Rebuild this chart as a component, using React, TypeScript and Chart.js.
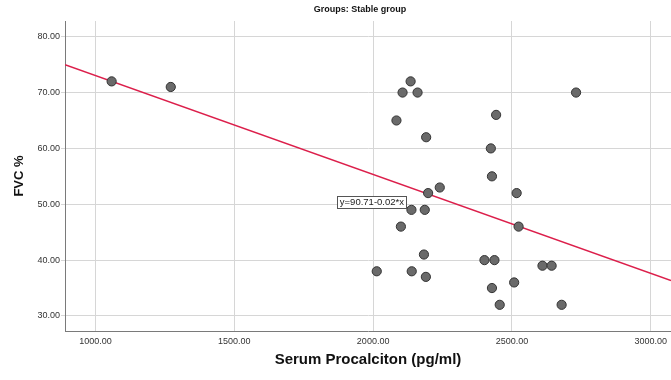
import React, { useEffect, useRef } from "react";
import { Chart, registerables } from "chart.js";

Chart.register(...registerables);

const titleText = "Groups: Stable group";
const xAxisTitle = "Serum Procalciton (pg/ml)";
const yAxisTitle = "FVC %";

const procalcitonin = [1058, 1271, 2135, 2106, 2160, 2084, 2191, 2443, 2731, 2424, 2428, 2240, 2198, 2517, 2138, 2186, 2100, 2524, 2013, 2139, 2183, 2190, 2401, 2437, 2428, 2456, 2508, 2610, 2643, 2679];
const fvc = [72, 71, 72, 70, 70, 65, 62, 66, 70, 60, 55, 53, 52, 52, 49, 49, 46, 46, 38, 38, 41, 37, 40, 40, 35, 32, 36, 39, 39, 32];

const fitX = [890, 3073];
const fitY = [75.0, 36.34];
const fitLabel = "y=90.71-0.02*x";
const fitLabelX = 1871;
const fitLabelY = 50.4;

const xTicks = [1000, 1500, 2000, 2500, 3000];
const yTicks = [30, 40, 50, 60, 70, 80];
const xRange = [890, 3073];
const yRange = [27.31, 82.81];

const FONT = "'Liberation Sans', Arial, sans-serif";

const overlayPlugin = {
  id: "overlay",
  afterDatasetsDraw(chart: any) {
    const ctx = chart.ctx;
    const xs = chart.scales.x;
    const ys = chart.scales.y;
    ctx.save();
    ctx.font = `9.5px ${FONT}`;
    const w = ctx.measureText(fitLabel).width;
    const lx = xs.getPixelForValue(fitLabelX);
    const ly = ys.getPixelForValue(fitLabelY);
    const bw = w + 5;
    const bh = 12;
    ctx.fillStyle = "#ffffff";
    ctx.fillRect(lx, ly - bh / 2, bw, bh);
    ctx.strokeStyle = "#555555";
    ctx.lineWidth = 1;
    ctx.strokeRect(Math.round(lx) + 0.5, Math.round(ly - bh / 2) + 0.5, Math.round(bw), bh);
    ctx.fillStyle = "#222222";
    ctx.textBaseline = "middle";
    ctx.textAlign = "left";
    ctx.fillText(fitLabel, lx + 2.5, ly + 0.5);
    ctx.restore();
  },
  afterDraw(chart: any) {
    const ctx = chart.ctx;
    ctx.save();
    ctx.font = `bold 9px ${FONT}`;
    ctx.fillStyle = "#111111";
    ctx.textAlign = "center";
    ctx.textBaseline = "middle";
    ctx.fillText(titleText, 360, 10);
    ctx.restore();
  },
};

export default function App() {
  const ref = useRef<HTMLCanvasElement>(null);
  useEffect(() => {
    if (!ref.current) return;
    const chart = new Chart(ref.current, {
      type: "scatter",
      data: {
        datasets: [
          {
            type: "scatter",
            data: procalcitonin.map((x, i) => ({ x, y: fvc[i] })),
            backgroundColor: "#6a6a6a",
            borderColor: "#333333",
            borderWidth: 1,
            pointRadius: 4.6,
            order: 0,
          },
          {
            type: "line",
            data: fitX.map((x, i) => ({ x, y: fitY[i] })),
            borderColor: "#dc1f4b",
            borderWidth: 1.5,
            pointRadius: 0,
            fill: false,
            order: 1,
          } as any,
        ],
      },
      options: {
        responsive: false,
        animation: false,
        layout: { autoPadding: false, padding: { top: 21, left: 0, right: 0, bottom: 0 } },
        plugins: {
          legend: { display: false },
          tooltip: { enabled: false },
          title: { display: false },
        },
        scales: {
          x: {
            type: "linear",
            min: xRange[0],
            max: xRange[1],
            afterBuildTicks: (s: any) => {
              s.ticks = xTicks.map((v) => ({ value: v }));
            },
            afterFit: (s: any) => {
              s.height = 49;
              s.paddingLeft = 0;
              s.paddingRight = 0;
            },
            ticks: {
              padding: 5,
              font: { family: FONT, size: 9 },
              color: "#333333",
              callback: (v: any) => Number(v).toFixed(2),
              maxRotation: 0,
            },
            grid: { color: "#d6d6d6", lineWidth: 1, drawTicks: false },
            border: { color: "#7a7a7a", width: 1 },
            title: {
              display: true,
              text: xAxisTitle,
              font: { family: FONT, size: 15, weight: "bold" },
              color: "#111111",
              padding: { top: 0, bottom: 11 },
            },
          },
          y: {
            type: "linear",
            min: yRange[0],
            max: yRange[1],
            afterBuildTicks: (s: any) => {
              s.ticks = yTicks.map((v) => ({ value: v }));
            },
            afterFit: (s: any) => {
              s.width = 65;
              s.paddingTop = 0;
              s.paddingBottom = 0;
            },
            ticks: {
              padding: 1,
              font: { family: FONT, size: 9 },
              color: "#333333",
              callback: (v: any) => Number(v).toFixed(2),
            },
            grid: { color: "#d6d6d6", lineWidth: 1, drawTicks: true, tickLength: 4 },
            border: { color: "#7a7a7a", width: 1 },
            title: {
              display: true,
              text: yAxisTitle,
              font: { family: FONT, size: 13, weight: "bold" },
              color: "#111111",
              padding: { top: 12, bottom: 0 },
            },
          },
        },
      },
      plugins: [overlayPlugin],
    });
    return () => chart.destroy();
  }, []);
  return (
    <div style={{ position: "fixed", left: 0, top: 0, width: 671, height: 380, background: "#fff" }}>
      <canvas ref={ref} width={671} height={380} style={{ display: "block" }} />
    </div>
  );
}
